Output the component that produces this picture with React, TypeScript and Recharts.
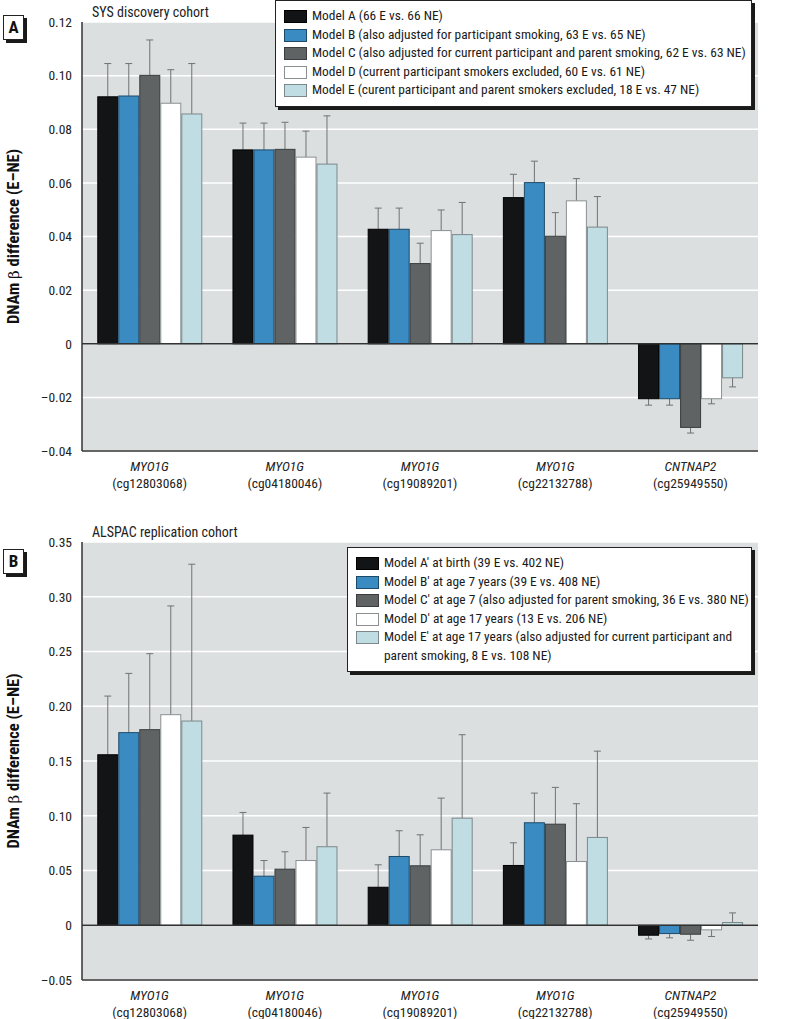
import React from 'react'
import { BarChart, Bar, XAxis, YAxis, CartesianGrid, ReferenceLine, Legend } from 'recharts'

const FONT = "'Liberation Sans Narrow', 'Roboto Condensed', 'DejaVu Sans Condensed', Roboto, sans-serif"

const genes = ['MYO1G', 'MYO1G', 'MYO1G', 'MYO1G', 'CNTNAP2']
const probes = ['cg12803068', 'cg04180046', 'cg19089201', 'cg22132788', 'cg25949550']

// panel A, SYS discovery cohort
const sysNames = [
  'Model A (66 E vs. 66 NE)',
  'Model B (also adjusted for participant smoking, 63 E vs. 65 NE)',
  'Model C (also adjusted for current participant and parent smoking, 62 E vs. 63 NE)',
  'Model D (current participant smokers excluded, 60 E vs. 61 NE)',
  'Model E (curent participant and parent smokers excluded, 18 E vs. 47 NE)',
]
const sysA = [0.0921, 0.0723, 0.0427, 0.0545, -0.0205]
const sysB = [0.0924, 0.0723, 0.0427, 0.0601, -0.0205]
const sysC = [0.1001, 0.0725, 0.0299, 0.0401, -0.0312]
const sysD = [0.0897, 0.0696, 0.0422, 0.0533, -0.0205]
const sysE = [0.0857, 0.067, 0.0407, 0.0435, -0.0127]
const sysErrA = [0.0124, 0.01, 0.0079, 0.0087, 0.0024]
const sysErrB = [0.0121, 0.01, 0.0079, 0.008, 0.0024]
const sysErrC = [0.0132, 0.0101, 0.0076, 0.0088, 0.0021]
const sysErrD = [0.0125, 0.0097, 0.0077, 0.0083, 0.0019]
const sysErrE = [0.0188, 0.018, 0.012, 0.0114, 0.0034]
const sysTicks = [-0.04, -0.02, 0, 0.02, 0.04, 0.06, 0.08, 0.1, 0.12]

// panel B, ALSPAC replication cohort
const alsNames = [
  'Model A\u2032 at birth (39 E vs. 402 NE)',
  'Model B\u2032 at age 7 years (39 E vs. 408 NE)',
  'Model C\u2032 at age 7 (also adjusted for parent smoking, 36 E vs. 380 NE)',
  'Model D\u2032 at age 17 years (13 E vs. 206 NE)',
  'Model E\u2032 at age 17 years (also adjusted for current participant and parent smoking, 8 E vs. 108 NE)',
]
const alsA = [0.1557, 0.0823, 0.0347, 0.0546, -0.0091]
const alsB = [0.1759, 0.0448, 0.0628, 0.0936, -0.0076]
const alsC = [0.1786, 0.0512, 0.0543, 0.0923, -0.0082]
const alsD = [0.1923, 0.0591, 0.0689, 0.0582, -0.0042]
const alsE = [0.1865, 0.0717, 0.0978, 0.0802, 0.0025]
const alsErrA = [0.0536, 0.0207, 0.0205, 0.0207, 0.0034]
const alsErrB = [0.0541, 0.0143, 0.0235, 0.0271, 0.0039]
const alsErrC = [0.0694, 0.0159, 0.0283, 0.0336, 0.0055]
const alsErrD = [0.0993, 0.0302, 0.0472, 0.0528, 0.0061]
const alsErrE = [0.1432, 0.049, 0.0762, 0.0788, 0.0088]
const alsTicks = [-0.05, 0, 0.05, 0.1, 0.15, 0.2, 0.25, 0.3, 0.35]

const fills = ['#121415', '#3b8bc3', '#5f6364', '#ffffff', '#bfdde3']
const strokes = ['#000000', '#1d4a68', '#3a3d3e', '#8a9092', '#7c888b']
const keys = ['a', 'b', 'c', 'd', 'e']

const build = (vals: number[][], errs: number[][]) =>
  probes.map((p, i) => {
    const row: any = { probe: p, gene: genes[i] }
    keys.forEach((k, j) => {
      row[k] = vals[j][i]
      row[k + 'Err'] = errs[j][i]
    })
    return row
  })

const sysData = build([sysA, sysB, sysC, sysD, sysE], [sysErrA, sysErrB, sysErrC, sysErrD, sysErrE])
const alsData = build([alsA, alsB, alsC, alsD, alsE], [alsErrA, alsErrB, alsErrC, alsErrD, alsErrE])

// bar with a one-sided error whisker pointing away from zero
const barWithErr = (key: string, stroke: string) => (props: any) => {
  const { x, y, width, height, fill, payload } = props
  const v = payload[key]
  const e = payload[key + 'Err']
  const k = Math.abs(height / v)
  const y1 = Math.min(y, y + height)
  const y2 = Math.max(y, y + height)
  const base = v >= 0 ? y2 : y1
  const tip = v >= 0 ? y1 : y2
  const ey = base - (v + Math.sign(v) * e) * k
  const cx = x + width / 2
  return (
    <g>
      <line x1={cx} x2={cx} y1={tip} y2={ey} stroke="#707375" strokeWidth={1} />
      <line x1={cx - 3.5} x2={cx + 3.5} y1={ey} y2={ey} stroke="#707375" strokeWidth={1} />
      <rect x={x + 0.5} y={y1} width={width - 1} height={y2 - y1} fill={fill} stroke={stroke} strokeWidth={1} />
    </g>
  )
}

const fmt = (v: number) => (v === 0 ? '0' : v < 0 ? '\u2013' + Math.abs(v).toFixed(2) : v.toFixed(2))

const ProbeTick = (props: any) => {
  const { x, y, payload } = props
  const i = probes.indexOf(payload.value)
  return (
    <g>
      <text x={x} y={y + 20} textAnchor="middle" fontStyle="italic" fontSize={13.5} fill="#222" fontFamily={FONT}>
        {genes[i]}
      </text>
      <text x={x} y={y + 37} textAnchor="middle" fontSize={13.5} fill="#222" fontFamily={FONT}>
        ({payload.value})
      </text>
    </g>
  )
}

const yLabel = (props: any) => {
  const { viewBox } = props
  const cy = viewBox.y + viewBox.height / 2
  return (
    <text x={19} y={cy} transform={`rotate(-90 19 ${cy})`} textAnchor="middle" fontSize={16.5} fontWeight="bold" fill="#111" fontFamily={FONT}>
      DNAm <tspan fontWeight="normal" fontFamily="'DejaVu Serif', serif" fontSize={15}>β</tspan> difference (E–NE)
    </text>
  )
}

const LegendBox = ({ names }: { names: string[] }) => (
  <div
    style={{
      background: '#fff',
      border: '1px solid #222',
      boxShadow: '3px 3px 0 #1a1a1a',
      padding: '6px 4px 6px 8px',
      fontFamily: FONT,
      fontSize: 13.4,
      color: '#1a1a1a',
      lineHeight: '18.5px',
      boxSizing: 'border-box',
    }}
  >
    {names.map((n, i) => (
      <div key={n} style={{ display: 'flex', alignItems: 'flex-start' }}>
        <span
          style={{
            display: 'inline-block',
            flex: '0 0 auto',
            width: 21,
            height: 11,
            marginTop: 3,
            marginRight: 5,
            background: fills[i],
            border: `1px solid ${strokes[i]}`,
          }}
        />
        <span style={{ whiteSpace: i < names.length - 1 ? 'nowrap' : 'normal' }}>{n}</span>
      </div>
    ))}
  </div>
)

const PanelTag = ({ letter, top }: { letter: string; top: number }) => (
  <div
    style={{
      position: 'absolute',
      left: 3,
      top,
      width: 19,
      height: 23,
      border: '1px solid #222',
      boxShadow: '3px 3px 0 #1a1a1a',
      background: '#fff',
      fontFamily: FONT,
      fontWeight: 'bold',
      fontSize: 17,
      lineHeight: '23px',
      textAlign: 'center',
      color: '#111',
    }}
  >
    {letter}
  </div>
)

const Panel = ({
  data,
  names,
  ticks,
  height,
  xHeight,
  legendStyle,
}: {
  data: any[]
  names: string[]
  ticks: number[]
  height: number
  xHeight: number
  legendStyle: any
}) => (
  <BarChart
    width={800}
    height={height}
    data={data}
    margin={{ top: 22, right: 42, bottom: 0, left: 0 }}
    barCategoryGap="11.3%"
    barGap={0}
  >
    <CartesianGrid vertical={false} fill="#dcdfe0" stroke="#ffffff" strokeWidth={1.5} />
    <XAxis
      dataKey="probe"
      height={xHeight}
      tickLine={false}
      tickSize={0}
      tickMargin={0}
      axisLine={{ stroke: '#333', strokeWidth: 1.5 }}
      tick={<ProbeTick />}
      interval={0}
    />
    <YAxis
      width={82}
      domain={[ticks[0], ticks[ticks.length - 1]]}
      ticks={ticks}
      tickFormatter={fmt}
      tickLine={false}
      tickSize={0}
      tickMargin={10}
      axisLine={{ stroke: '#333', strokeWidth: 1.5 }}
      tick={{ fontSize: 13.5, fill: '#222', fontFamily: FONT }}
      allowDataOverflow
      label={{ content: yLabel }}
    />
    <Legend
      layout="horizontal"
      verticalAlign="middle"
      align="center"
      wrapperStyle={legendStyle}
      content={() => <LegendBox names={names} />}
    />
    {keys.map((k, i) => (
      <Bar
        key={k}
        dataKey={k}
        name={names[i]}
        fill={fills[i]}
        stroke={strokes[i]}
        isAnimationActive={false}
        shape={barWithErr(k, strokes[i])}
      />
    ))}
    <ReferenceLine y={0} stroke="#333" strokeWidth={1.5} />
  </BarChart>
)

export default function App() {
  return (
    <div style={{ position: 'absolute', left: 0, top: 0, width: 800, height: 1019, background: '#fff', overflow: 'hidden' }}>
      <div style={{ position: 'absolute', left: 0, top: 0 }}>
        <Panel
          data={sysData}
          names={sysNames}
          ticks={sysTicks}
          height={510}
          xHeight={59}
          legendStyle={{ left: 275, top: 0, width: 477 }}
        />
      </div>
      <div style={{ position: 'absolute', left: 0, top: 520 }}>
        <Panel
          data={alsData}
          names={alsNames}
          ticks={alsTicks}
          height={499}
          xHeight={39}
          legendStyle={{ left: 347, top: 27, width: 405 }}
        />
      </div>
      <div style={{ position: 'absolute', left: 92, top: 4, fontFamily: FONT, fontSize: 14, color: '#222' }}>
        SYS discovery cohort
      </div>
      <div style={{ position: 'absolute', left: 92, top: 524, fontFamily: FONT, fontSize: 14, color: '#222' }}>
        ALSPAC replication cohort
      </div>
      <PanelTag letter="A" top={15} />
      <PanelTag letter="B" top={549} />
    </div>
  )
}
